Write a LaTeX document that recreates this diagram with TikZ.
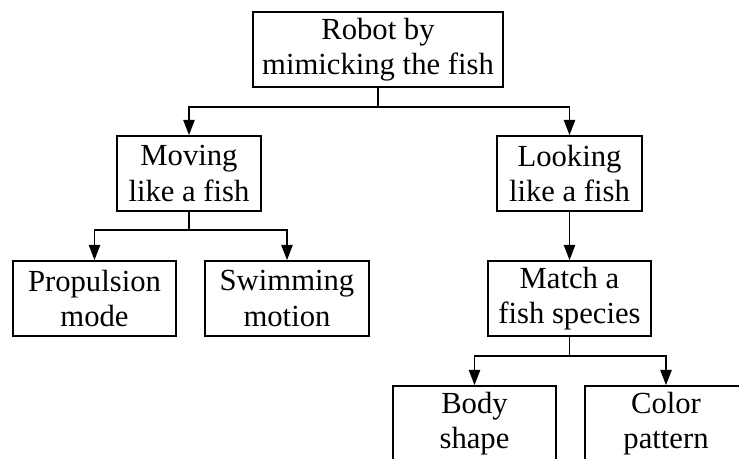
\documentclass[tikz,border=0pt]{standalone}
\usepackage{fontspec}
\setmainfont{Liberation Serif}
\usetikzlibrary{arrows.meta}

\begin{document}
\begin{tikzpicture}[x=0.75pt,y=-0.75pt,line width=1.3pt,>={Triangle[length=11.5pt,width=8.5pt]},
  box/.style={draw,line width=1.3pt,align=center,inner sep=0pt,minimum height=56.25pt,
    font=\fontsize{23}{26.5}\selectfont}]
  \useasboundingbox (0,0) rectangle (739,458);
  % raiz
  \node[box,minimum width=187.5pt] (robot) at (378,49.5){Robot by\\mimicking the fish};
  % rama izquierda
  \node[box,minimum width=108pt] (moving) at (189,173.5){Moving\\like a fish};
  \node[box,minimum width=122pt] (propulsion) at (94.5,298.5){Propulsion\\mode};
  \node[box,minimum width=123pt] (swimming) at (287,298.5){Swimming\\motion};
  % rama derecha
  \node[box,minimum width=109pt] (looking) at (569.5,173.5){Looking\\like a fish};
  \node[box,minimum width=122pt] (match) at (569.5,298.5){Match a\\fish species};
  \node[box,minimum width=122pt] (body) at (474.5,423.5){Body\\shape};
  \node[box,minimum width=122pt] (color) at (666,423.5){Color\\pattern};
  % conectores
  \draw[->] (robot.south) -- ++(0,19) -| (moving.north);
  \draw[->] (robot.south) -- ++(0,19) -| (looking.north);
  \draw[->] (moving.south) -- ++(0,18) -| (propulsion.north);
  \draw[->] (moving.south) -- ++(0,18) -| (swimming.north);
  \draw[->] (looking.south) -- (match.north);
  \draw[->] (match.south) -- ++(0,19) -| (body.north);
  \draw[->] (match.south) -- ++(0,19) -| (color.north);
\end{tikzpicture}
\end{document}
